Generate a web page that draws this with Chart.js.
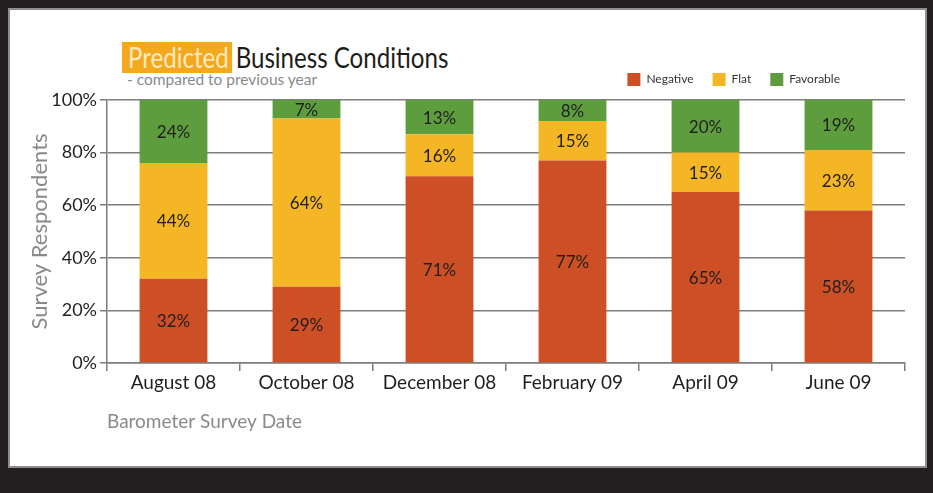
<!DOCTYPE html>
<html lang="en">
<head>
<meta charset="UTF-8">
<title>Predicted Business Conditions</title>
<script src="https://cdn.jsdelivr.net/npm/chart.js"></script>
<style>
  html, body { margin: 0; padding: 0; }
  body { width: 933px; height: 493px; background: #231f20; position: relative; overflow: hidden; font-family: Lato, sans-serif; }
  .panel { position: absolute; left: 8px; top: 8px; width: 915px; height: 456px; background: #fff; border: 2px solid #8e8e8e; }
  .title { position: absolute; left: 122px; top: 42px; height: 31px; line-height: 31px; font-size: 28px; color: #1d1d1b; white-space: nowrap; transform: scaleX(0.86); transform-origin: left center; }
  .title .hl { display: inline-block; background: #f4a81d; color: #fde9bf; padding: 0 4px 0 7px; margin-right: 4px; }
  .subtitle { position: absolute; left: 127px; top: 70px; font-size: 15.5px; color: #8a8a8a; white-space: nowrap; }
  #chart { position: absolute; left: 0; top: 0; }
</style>
</head>
<body>
<div class="panel"></div>
<div class="title"><span class="hl">Predicted</span>Business Conditions</div>
<div class="subtitle">- compared to previous year</div>
<canvas id="chart" width="933" height="493"></canvas>

<script>
// survey data, in percent
const categories = ['August 08', 'October 08', 'December 08', 'February 09', 'April 09', 'June 09'];
const negative = [32, 29, 71, 77, 65, 58];
const flat = [44, 64, 16, 15, 15, 23];
const favorable = [24, 7, 13, 8, 20, 19];
const yTicks = [0, 20, 40, 60, 80, 100];

const gridGray = '#7d7d7d';

// write the value in the middle of every segment
const barLabels = {
  id: 'barLabels',
  afterDatasetsDraw(chart) {
    const ctx = chart.ctx;
    ctx.save();
    ctx.font = '17px Lato';
    ctx.fillStyle = '#1f1f1f';
    ctx.textAlign = 'center';
    ctx.textBaseline = 'middle';
    chart.data.datasets.forEach((ds, i) => {
      chart.getDatasetMeta(i).data.forEach((bar, j) => {
        const p = bar.getCenterPoint();
        ctx.fillText(ds.data[j] + '%', p.x, p.y + 1);
      });
    });
    ctx.restore();
  }
};

// legend sits a bit left of the plot's right edge
const legendNudge = {
  id: 'legendNudge',
  afterLayout(chart) {
    const lg = chart.legend;
    lg.left -= 46; lg.right -= 46;
    lg.top -= 4; lg.bottom -= 4;
  }
};

new Chart(document.getElementById('chart'), {
  type: 'bar',
  data: {
    labels: categories,
    datasets: [
      { label: 'Negative', data: negative, backgroundColor: '#cc4f25' },
      { label: 'Flat', data: flat, backgroundColor: '#f5b626' },
      { label: 'Favorable', data: favorable, backgroundColor: '#5e9d3e' }
    ]
  },
  options: {
    responsive: false,
    animation: false,
    layout: { padding: { top: 58, right: 28, bottom: 0, left: 0 } },
    datasets: { bar: { barPercentage: 0.51, categoryPercentage: 1, borderWidth: 0 } },
    plugins: {
      tooltip: { enabled: false },
      legend: {
        position: 'top',
        align: 'end',
        labels: {
          boxWidth: 13, boxHeight: 13, padding: 19,
          color: '#333', font: { family: 'Lato', size: 12 }
        }
      }
    },
    scales: {
      x: {
        stacked: true,
        afterFit: s => { s.height = 130; },
        grid: { display: true, drawOnChartArea: false, drawTicks: true, tickLength: 8, color: gridGray, lineWidth: 1.5, offset: true },
        border: { display: true, color: gridGray, width: 1.5 },
        ticks: { color: '#1f1f1f', padding: 0, font: { family: 'Lato', size: 19 } },
        title: {
          display: true, text: 'Barometer Survey Date', align: 'start',
          color: '#8a8a8a', font: { family: 'Lato', size: 19 },
          padding: { top: 0, bottom: 60 }
        }
      },
      y: {
        stacked: true,
        min: 0, max: 100,
        afterFit: s => { s.width = 107; },
        afterBuildTicks: s => { s.ticks = yTicks.map(v => ({ value: v })); },
        grid: { color: gridGray, lineWidth: 1.5, tickLength: 7 },
        border: { display: true, color: gridGray, width: 1.5 },
        ticks: { color: '#1f1f1f', padding: 3, font: { family: 'Lato', size: 18 }, callback: v => v + '%' },
        title: {
          display: true, text: 'Survey Respondents',
          color: '#8a8a8a', font: { family: 'Lato', size: 22 },
          padding: { top: 27, bottom: 0 }
        }
      }
    }
  },
  plugins: [barLabels, legendNudge]
});
</script>
</body>
</html>
